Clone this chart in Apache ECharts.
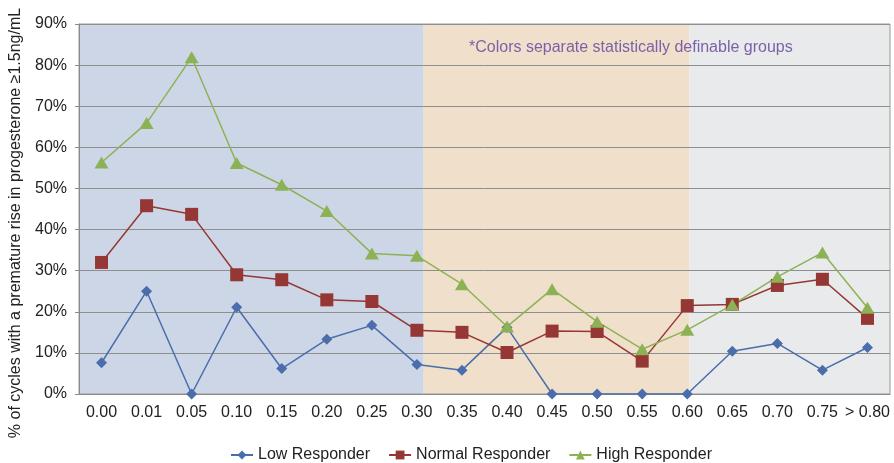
<!DOCTYPE html>
<html>
<head>
<meta charset="utf-8">
<script src="https://cdn.jsdelivr.net/npm/echarts@6/dist/echarts.min.js"></script>
<style>html,body{margin:0;padding:0;background:#fff;}#c{width:894px;height:463px;}</style>
</head>
<body>
<div id="c"></div>
<script>
var categories = ['0.00','0.01','0.05','0.10','0.15','0.20','0.25','0.30','0.35','0.40','0.45','0.50','0.55','0.60','0.65','0.70','0.75','> 0.80'];
var lowResponder = [7.6, 25.0, 0, 21.1, 6.2, 13.3, 16.7, 7.2, 5.8, 16.2, 0, 0, 0, 0, 10.4, 12.3, 5.8, 11.3];
var normalResponder = [32.0, 45.8, 43.7, 29.0, 27.8, 22.9, 22.5, 15.5, 15.0, 10.1, 15.3, 15.2, 8.0, 21.5, 21.8, 26.4, 27.9, 18.4];
var highResponder = [56.3, 65.9, 81.9, 56.2, 50.9, 44.5, 34.2, 33.6, 26.7, 16.4, 25.5, 17.6, 10.9, 15.6, 21.7, 28.5, 34.4, 21.0];
var yTicks = [0, 10, 20, 30, 40, 50, 60, 70, 80, 90];
// group bands in category-index units (0 = left edge of plot, 18 = right edge)
var bandEdges = [0, 7.65, 13.55, 18];
var bandColors = ['#CDD6E6', '#F0E0CB', '#E9EAEC'];
var seriesNames = ['Low Responder', 'Normal Responder', 'High Responder'];
var note = '*Colors separate statistically definable groups';
var yName = '% of cycles with a premature rise in progesterone \u22651.5ng/mL';

var font = 'Liberation Sans, Arial, Helvetica, sans-serif';
var chart = echarts.init(document.getElementById('c'), null, {renderer: 'canvas'});
var bands = [];
for (var i = 0; i < bandColors.length; i++) {
  bands.push([{xAxis: bandEdges[i], itemStyle: {color: bandColors[i]}}, {xAxis: bandEdges[i + 1]}]);
}
chart.setOption({
  animation: false,
  backgroundColor: '#ffffff',
  textStyle: {fontFamily: font},
  title: {
    text: note, left: 464, top: 35,
    textStyle: {color: '#7B62A8', fontSize: 16, fontWeight: 'normal', fontFamily: font}
  },
  grid: {left: 79, right: 4, top: 24, bottom: 69, show: true, borderColor: '#9a9a9a', borderWidth: 1, backgroundColor: 'transparent'},
  legend: {
    left: 225, top: 442,
    itemWidth: 22, itemHeight: 11, itemGap: 18,
    textStyle: {fontSize: 16, color: '#222', fontFamily: font},
    data: seriesNames
  },
  xAxis: [{
    type: 'category', data: categories, z: 3,
    axisLine: {lineStyle: {color: '#8a8a8a'}},
    axisTick: {length: 5, lineStyle: {color: '#8a8a8a'}},
    axisLabel: {fontSize: 16, color: '#222', margin: 11, interval: 0}
  }, {
    type: 'value', min: 0, max: 18, show: false
  }],
  yAxis: {
    type: 'value', min: 0, max: 90, interval: 10, z: 1,
    name: yName, nameLocation: 'middle', nameGap: 55,
    nameTextStyle: {fontSize: 16, color: '#222', padding: [0, 28, 0, 0]},
    axisLine: {show: true, lineStyle: {color: '#8a8a8a'}},
    axisTick: {show: true, length: 4, lineStyle: {color: '#8a8a8a'}},
    splitLine: {lineStyle: {color: '#8e8e8e', width: 1}},
    axisLabel: {fontSize: 16, color: '#222', margin: 12, formatter: function (v) { return yTicks.indexOf(v) >= 0 ? v + '%' : ''; }}
  },
  series: [{
    type: 'line', xAxisIndex: 1, data: [], z: -2, silent: true,
    markArea: {silent: true, z: -2, data: bands}
  }, {
    name: seriesNames[0], type: 'line', data: lowResponder, z: 4,
    symbol: 'diamond', symbolSize: 11,
    lineStyle: {color: '#4A6DAB', width: 1.5}, itemStyle: {color: '#4A6DAB'}
  }, {
    name: seriesNames[1], type: 'line', data: normalResponder, z: 4,
    symbol: 'rect', symbolSize: 13,
    lineStyle: {color: '#953735', width: 1.5}, itemStyle: {color: '#953735'}
  }, {
    name: seriesNames[2], type: 'line', data: highResponder, z: 4,
    symbol: 'triangle', symbolSize: [14, 12],
    lineStyle: {color: '#8DB255', width: 1.5}, itemStyle: {color: '#8DB255'}
  }]
});
</script>
</body>
</html>
